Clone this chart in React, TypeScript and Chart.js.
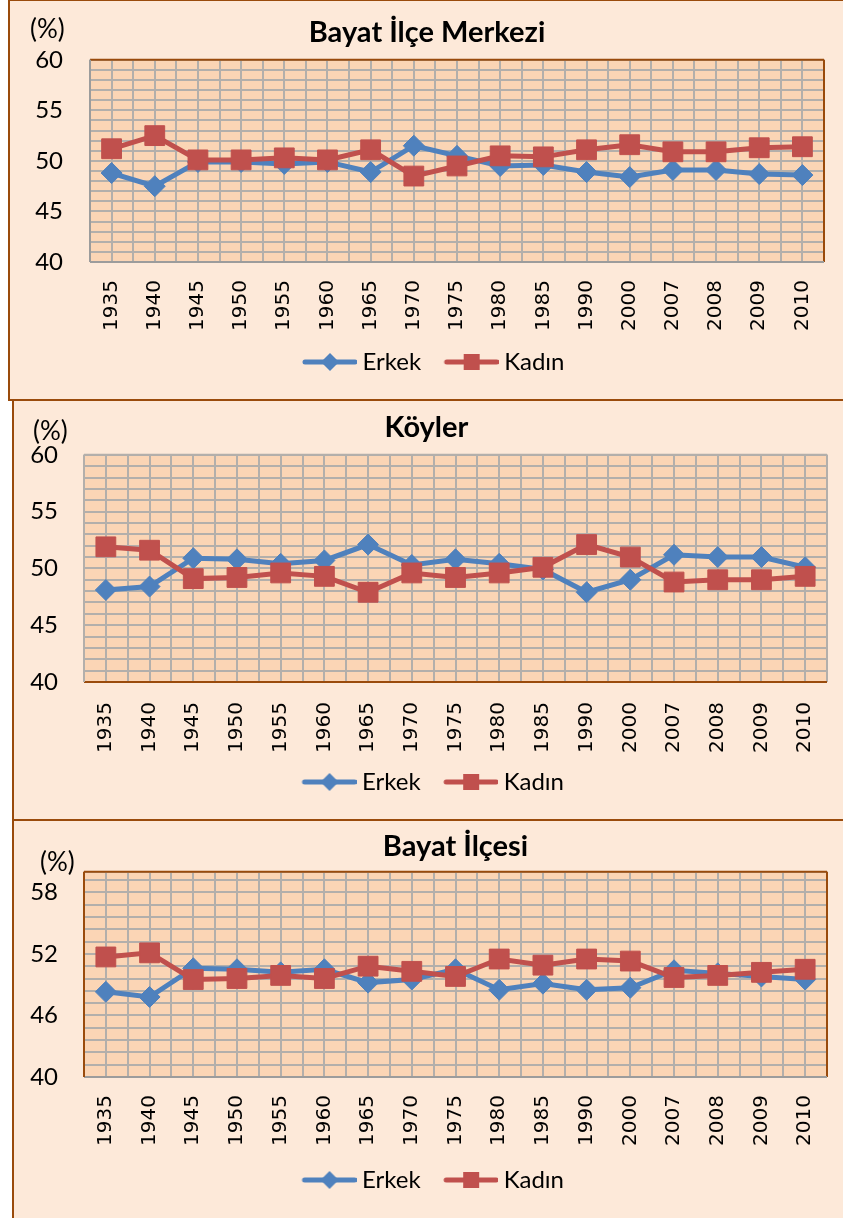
import React, { useEffect, useRef } from 'react';
import { Chart, registerables } from 'chart.js';

Chart.register(...registerables);

// ---------------- data ----------------
const years = ['1935', '1940', '1945', '1950', '1955', '1960', '1965', '1970', '1975', '1980', '1985', '1990', '2000', '2007', '2008', '2009', '2010'];

const merkezErkek = [48.8, 47.5, 49.9, 49.9, 49.7, 49.9, 48.9, 51.5, 50.5, 49.5, 49.6, 48.9, 48.4, 49.1, 49.1, 48.7, 48.6];
const merkezKadin = [51.2, 52.5, 50.1, 50.1, 50.3, 50.1, 51.1, 48.5, 49.5, 50.5, 50.4, 51.1, 51.6, 50.9, 50.9, 51.3, 51.4];

const koyErkek = [48.1, 48.4, 50.9, 50.8, 50.4, 50.7, 52.1, 50.3, 50.8, 50.4, 49.9, 47.9, 49.0, 51.2, 51.0, 51.0, 50.1];
const koyKadin = [51.9, 51.6, 49.1, 49.2, 49.6, 49.3, 47.9, 49.6, 49.2, 49.6, 50.1, 52.1, 51.0, 48.8, 49.0, 49.0, 49.3];

const ilceErkek = [48.3, 47.8, 50.6, 50.5, 50.2, 50.5, 49.2, 49.5, 50.5, 48.5, 49.1, 48.5, 48.7, 50.4, 50.1, 49.8, 49.5];
const ilceKadin = [51.7, 52.1, 49.5, 49.6, 49.9, 49.6, 50.8, 50.3, 49.8, 51.5, 50.9, 51.5, 51.3, 49.7, 49.9, 50.2, 50.5];

const seriesNames = ['Erkek', 'Kadın'];
const titles = ['Bayat İlçe Merkezi', 'Köyler', 'Bayat İlçesi'];
const unitLabel = '(%)';

// y-axis ranges: [min, max, major, minor]
const axis1 = [40, 60, 5, 1];
const axis2 = [40, 60, 5, 1];
const axis3 = [40, 60, 6, 1.2];

// ---------------- styles ----------------
const BLUE = '#4F81BD';
const RED = '#C0504D';
const GRID = '#B3AFAB';
const PLOT_BG = '#FBD5B5';
const PANEL_BG = '#FDE9D9';
const BROWN = '#9A4B0C';
const AXIS_GRAY = '#9C9C9C';

const LEG_BOX_W = 61;
const LEG_IMG_W = 74;
const LEG_LINE_START = 20;

function makeMarker(kind: string, color: string) {
  const c = document.createElement('canvas');
  c.width = LEG_IMG_W;
  c.height = 24;
  const g = c.getContext('2d') as CanvasRenderingContext2D;
  g.strokeStyle = color;
  g.lineWidth = 5;
  g.lineCap = 'round';
  g.beginPath();
  g.moveTo(LEG_LINE_START + 2, 12);
  g.lineTo(LEG_IMG_W - 2, 12);
  g.stroke();
  const cx = (LEG_LINE_START + LEG_IMG_W) / 2;
  g.fillStyle = color;
  if (kind === 'diamond') {
    g.beginPath();
    g.moveTo(cx, 3);
    g.lineTo(cx + 9, 12);
    g.lineTo(cx, 21);
    g.lineTo(cx - 9, 12);
    g.closePath();
    g.fill();
  } else {
    g.fillRect(cx - 8, 4, 16, 16);
  }
  return c;
}

const decorPlugin = {
  id: 'decor',
  beforeDraw(chart: any) {
    const { ctx, chartArea: a } = chart;
    ctx.save();
    ctx.fillStyle = PLOT_BG;
    ctx.fillRect(a.left, a.top, a.right - a.left, a.bottom - a.top);
    ctx.restore();
  },
  beforeDatasetsDraw(chart: any, _args: any, opts: any) {
    const { ctx, chartArea: a } = chart;
    const f = opts.frame;
    ctx.save();
    ctx.lineWidth = 2;
    const line = (x1: number, y1: number, x2: number, y2: number, c: string) => {
      ctx.strokeStyle = c;
      ctx.beginPath();
      ctx.moveTo(x1, y1);
      ctx.lineTo(x2, y2);
      ctx.stroke();
    };
    line(a.left, a.top, a.right, a.top, f.top);
    line(a.right, a.top, a.right, a.bottom, f.right);
    line(a.left, a.bottom, a.right, a.bottom, f.bottom);
    line(a.left, a.top, a.left, a.bottom, f.left);
    ctx.restore();
  },
  afterDraw(chart: any, _args: any, opts: any) {
    const { ctx } = chart;
    ctx.save();
    ctx.fillStyle = '#000';
    ctx.font = '26px Lato';
    ctx.textAlign = 'left';
    ctx.textBaseline = 'middle';
    ctx.fillText(unitLabel, opts.unitX, opts.unitY);
    ctx.restore();
  },
};

function buildConfig(p: any) {
  const [yMin, yMax, yMajor, yMinor] = p.axis;
  const markers = [makeMarker('diamond', BLUE), makeMarker('square', RED)];
  return {
    type: 'line',
    data: {
      labels: years,
      datasets: [
        {
          label: seriesNames[0],
          data: p.erkek,
          borderColor: BLUE,
          backgroundColor: BLUE,
          borderWidth: 5,
          pointStyle: 'rectRot',
          pointRadius: 10.5,
          pointBackgroundColor: BLUE,
          pointBorderColor: BLUE,
          pointBorderWidth: 1,
          tension: 0,
          order: 1,
          xAxisID: 'x',
          yAxisID: 'y',
        },
        {
          label: seriesNames[1],
          data: p.kadin,
          borderColor: RED,
          backgroundColor: RED,
          borderWidth: 5,
          pointStyle: 'rect',
          pointRadius: 14,
          pointBackgroundColor: RED,
          pointBorderColor: RED,
          pointBorderWidth: 1,
          tension: 0,
          order: 0,
          xAxisID: 'x',
          yAxisID: 'y',
        },
      ],
    },
    options: {
      responsive: false,
      maintainAspectRatio: false,
      animation: false,
      events: [],
      layout: { padding: { left: p.padLeft, top: 0, right: p.padRight, bottom: p.padBottom } },
      scales: {
        x: {
          type: 'category',
          offset: true,
          grid: { offset: true, color: GRID, lineWidth: 2, drawTicks: false },
          border: { display: false },
          ticks: {
            autoSkip: false,
            maxRotation: 90,
            minRotation: 90,
            padding: p.xPad,
            color: '#000',
            font: { family: 'DejaVu Sans', size: 20 },
          },
          afterFit: (s: any) => {
            s.height = p.xH;
          },
        },
        x2: {
          type: 'category',
          labels: years,
          offset: true,
          position: 'bottom',
          grid: { offset: false, color: GRID, lineWidth: 2, drawTicks: false },
          border: { display: false },
          ticks: { display: false },
          afterFit: (s: any) => {
            s.height = 0;
          },
        },
        y: {
          type: 'linear',
          min: yMin,
          max: yMax,
          grid: { color: GRID, lineWidth: 2, drawTicks: false },
          border: { display: false },
          afterBuildTicks: (s: any) => {
            const t: any[] = [];
            for (let k = 0; ; k++) {
              const v = Math.round((yMin + k * yMinor) * 1e6) / 1e6;
              if (v > yMax - 1e-9) break;
              t.push({ value: v });
            }
            t.push({ value: yMax });
            s.ticks = t;
          },
          ticks: {
            autoSkip: false,
            padding: p.yPad,
            color: '#000',
            font: { family: 'Lato', size: 24 },
            callback: (v: any) => {
              const r = (v - yMin) / yMajor;
              return Math.abs(r - Math.round(r)) < 1e-6 ? String(v) : '';
            },
          },
          afterFit: (s: any) => {
            s.width = p.yW;
          },
        },
      },
      plugins: {
        tooltip: { enabled: false },
        title: {
          display: true,
          text: p.title,
          color: '#000',
          fullSize: p.titleFull,
          font: { family: 'Lato', size: 29, weight: 'bold' },
          padding: { top: p.titleTop, bottom: p.titleBottom },
        },
        legend: {
          display: true,
          position: 'bottom',
          labels: {
            usePointStyle: true,
            pointStyleWidth: LEG_BOX_W,
            padding: 10,
            color: '#000',
            font: { family: 'Lato', size: 24 },
            generateLabels: (chart: any) => {
              const items = (Chart as any).defaults.plugins.legend.labels.generateLabels(chart);
              items.sort((a: any, b: any) => a.datasetIndex - b.datasetIndex);
              return items.map((it: any) => ({ ...it, pointStyle: markers[it.datasetIndex] }));
            },
          },
        },
        decor: {
          unitX: p.unitX,
          unitY: p.unitY,
          frame: p.frame,
        },
      },
    },
    plugins: [decorPlugin],
  };
}

const panels = [
  {
    left: 10, top: 1, w: 847, h: 398,
    title: titles[0], titleFull: true, titleTop: 14, titleBottom: 10,
    erkek: merkezErkek, kadin: merkezKadin, axis: axis1,
    padLeft: 20, padRight: 33, padBottom: 15, yW: 60, yPad: 27, xH: 78, xPad: 18,
    unitX: 20, unitY: 29,
    frame: { top: BROWN, right: BROWN, bottom: AXIS_GRAY, left: AXIS_GRAY },
  },
  {
    left: 14, top: 401, w: 843, h: 418,
    title: titles[1], titleFull: true, titleTop: 9, titleBottom: 10,
    erkek: koyErkek, kadin: koyKadin, axis: axis2,
    padLeft: 12, padRight: 30, padBottom: 15, yW: 58, yPad: 26, xH: 78, xPad: 20,
    unitX: 19, unitY: 31,
    frame: { top: GRID, right: GRID, bottom: BROWN, left: GRID },
  },
  {
    left: 14, top: 821, w: 843, h: 397,
    title: titles[2], titleFull: false, titleTop: 8, titleBottom: 8,
    erkek: ilceErkek, kadin: ilceKadin, axis: axis3,
    padLeft: 12, padRight: 30, padBottom: 16, yW: 58, yPad: 26, xH: 81, xPad: 18,
    unitX: 26, unitY: 42,
    frame: { top: BROWN, right: BROWN, bottom: AXIS_GRAY, left: BROWN },
  },
];

function ChartPanel({ p }: { p: any }) {
  const ref = useRef<HTMLCanvasElement | null>(null);
  useEffect(() => {
    if (!ref.current) return;
    const chart = new Chart(ref.current, buildConfig(p) as any);
    return () => chart.destroy();
  }, []);
  return (
    <canvas
      ref={ref}
      width={p.w}
      height={p.h}
      style={{ position: 'absolute', left: p.left, top: p.top, width: p.w, height: p.h }}
    />
  );
}

export default function App() {
  const box = (extra: any) => ({
    position: 'absolute' as const,
    boxSizing: 'border-box' as const,
    background: PANEL_BG,
    borderStyle: 'solid',
    borderColor: BROWN,
    ...extra,
  });
  return (
    <div style={{ position: 'absolute', left: 0, top: 0, width: 843, height: 1218, overflow: 'hidden', background: '#fff' }}>
      <div style={box({ left: 8, top: -1, width: 900, height: 402, borderWidth: '2px 0 2px 2px' })} />
      <div style={box({ left: 12, top: 401, width: 900, height: 420, borderWidth: '0 0 2px 2px' })} />
      <div style={box({ left: 12, top: 821, width: 900, height: 420, borderWidth: '0 0 0 2px' })} />
      {panels.map((p, i) => (
        <ChartPanel key={i} p={p} />
      ))}
    </div>
  );
}
